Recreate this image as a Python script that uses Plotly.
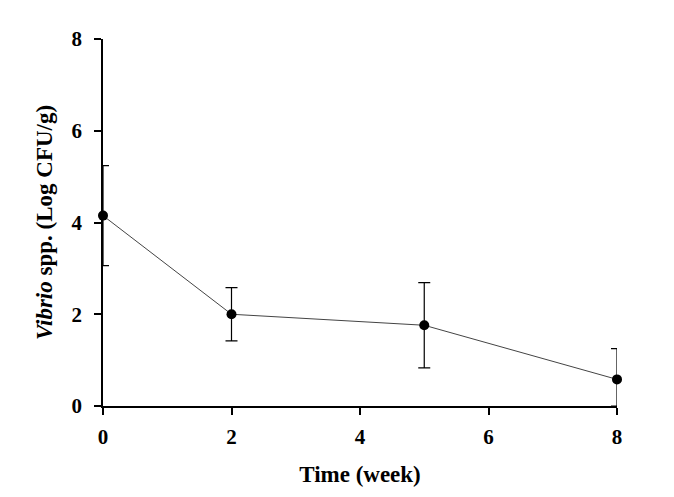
import plotly.graph_objects as go

weeks = [0, 2, 5, 8]
vibrio_log = [4.15, 2.0, 1.76, 0.58]
err_plus = [1.09, 0.58, 0.93, 0.67]
err_minus = [1.09, 0.58, 0.93, 0.58]
x_ticks = [0, 2, 4, 6, 8]
y_ticks = [0, 2, 4, 6, 8]

FONT = "Liberation Serif"

fig = go.Figure()
fig.add_trace(go.Scatter(
    x=weeks, y=vibrio_log,
    mode="lines+markers",
    line=dict(color="#444444", width=1),
    marker=dict(color="black", size=10),
    error_y=dict(type="data", array=err_plus, arrayminus=err_minus, visible=True,
                 color="black", thickness=1.2, width=6),
    cliponaxis=False,
    showlegend=False,
))

fig.update_layout(
    width=674, height=497,
    margin=dict(l=95, r=65, t=31, b=99),
    paper_bgcolor="white", plot_bgcolor="white",
    font=dict(family=FONT, size=21, color="black"),
)
fig.update_xaxes(
    range=[0, 8], tickvals=x_ticks, ticktext=[f"<b>{v}</b>" for v in x_ticks],
    showline=True, linecolor="black", linewidth=1.5,
    ticks="outside", ticklen=7, tickwidth=1.5, tickcolor="black",
    ticklabelstandoff=4,
    showgrid=False, zeroline=False,
    title=dict(text="<b>Time (week)</b>", font=dict(family=FONT, size=23), standoff=18),
)
fig.update_yaxes(
    range=[0, 8], tickvals=y_ticks, ticktext=[f"<b>{v}</b>" for v in y_ticks],
    showline=True, linecolor="black", linewidth=1.5,
    ticks="outside", ticklen=7, tickwidth=1.5, tickcolor="black",
    ticklabelstandoff=8,
    showgrid=False, zeroline=False,
    title=dict(text="<b><i>Vibrio</i> spp. (Log CFU/g)</b>", font=dict(family=FONT, size=23), standoff=12),
)

fig.write_html("out.html")
